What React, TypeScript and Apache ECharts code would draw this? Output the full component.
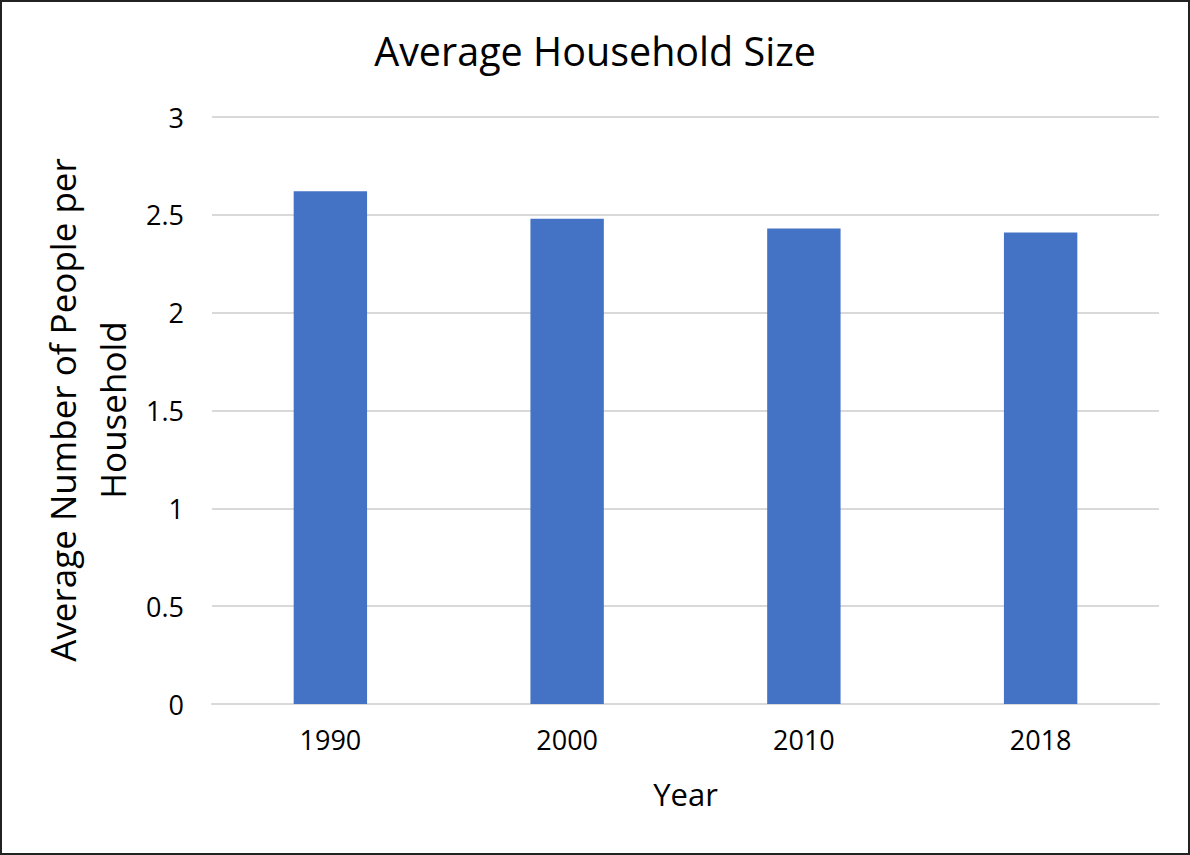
import React, { useEffect, useRef } from "react";
import * as echarts from "echarts";

const categories = ["1990", "2000", "2010", "2018"];
const householdSize = [2.62, 2.48, 2.43, 2.41];
const titleText = "Average Household Size";
const xAxisTitle = "Year";
const yAxisTitleLines = ["Average Number of People per", "Household"];

const FONT = "'Open Sans', 'Noto Sans', sans-serif";

export default function App() {
  const ref = useRef<HTMLDivElement>(null);
  useEffect(() => {
    if (!ref.current) return;
    const chart = echarts.init(ref.current, undefined, { renderer: "svg" });
    chart.setOption({
      animation: false,
      backgroundColor: "#ffffff",
      title: {
        text: titleText,
        left: "center",
        top: 26,
        textStyle: { fontFamily: FONT, fontSize: 39.5, fontWeight: "normal", color: "#000" },
      },
      grid: { left: 212, right: 31, top: 117, bottom: 151 },
      xAxis: {
        type: "category",
        data: categories,
        name: xAxisTitle,
        nameLocation: "middle",
        nameGap: 74,
        nameTextStyle: { fontFamily: FONT, fontSize: 31, color: "#000" },
        axisLine: { show: true, lineStyle: { color: "#d9d9d9", width: 2 } },
        axisTick: { show: false },
        axisLabel: { fontFamily: FONT, fontSize: 27, color: "#000", margin: 22 },
      },
      yAxis: {
        type: "value",
        min: 0,
        max: 3,
        interval: 0.5,
        axisLine: { show: false },
        axisTick: { show: false },
        axisLabel: { fontFamily: FONT, fontSize: 27, color: "#000", margin: 28 },
        splitLine: { lineStyle: { color: "#d9d9d9", width: 2 } },
      },
      series: [
        {
          type: "bar",
          data: householdSize,
          barWidth: "31%",
          itemStyle: { color: "#4472C4" },
        },
      ],
      graphic: [
        {
          type: "text",
          x: 62,
          y: 410,
          rotation: Math.PI / 2,
          style: {
            text: yAxisTitleLines[0],
            fontFamily: FONT,
            fontSize: 35,
            fill: "#000",
            textAlign: "center",
            textVerticalAlign: "middle",
          },
        },
        {
          type: "text",
          x: 112,
          y: 410,
          rotation: Math.PI / 2,
          style: {
            text: yAxisTitleLines[1],
            fontFamily: FONT,
            fontSize: 35,
            fill: "#000",
            textAlign: "center",
            textVerticalAlign: "middle",
          },
        },
        {
          type: "rect",
          shape: { x: 1, y: 1, width: 1188, height: 853 },
          style: { fill: "none", stroke: "#222", lineWidth: 2 },
          silent: true,
          z: 100,
        },
      ],
    });
    return () => chart.dispose();
  }, []);
  return (
    <div
      ref={ref}
      style={{ position: "absolute", left: 0, top: 0, width: 1190, height: 855 }}
    />
  );
}
